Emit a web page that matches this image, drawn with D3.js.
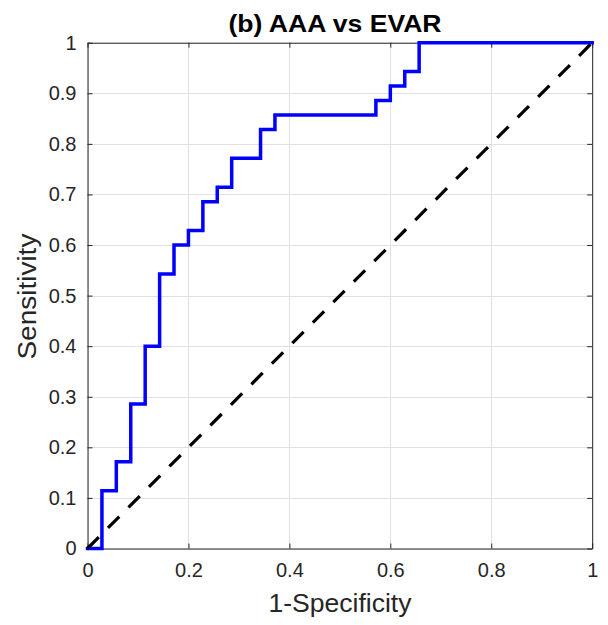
<!DOCTYPE html>
<html>
<head>
<meta charset="utf-8">
<script src="https://cdn.jsdelivr.net/npm/d3@7"></script>
<style>
  html, body { margin: 0; padding: 0; background: #fff; }
  svg { display: block; }
  text { font-family: "Liberation Sans", Arial, Helvetica, sans-serif; fill: #262626; }
</style>
</head>
<body>
<svg id="chart" width="608" height="625"></svg>
<script>
// ---- data ----
const titleText = "(b) AAA vs EVAR";
const xLabel = "1-Specificity";
const yLabel = "Sensitivity";
const xTicks = [0, 0.2, 0.4, 0.6, 0.8, 1];
const yTicks = [0, 0.1, 0.2, 0.3, 0.4, 0.5, 0.6, 0.7, 0.8, 0.9, 1];
// ROC step corners: value of sensitivity from each false positive rate onward
const fpr = [0, 0.0286, 0.0571, 0.0857, 0.1143, 0.1429, 0.1714, 0.2, 0.2286, 0.2571, 0.2857, 0.3429, 0.3714, 0.5714, 0.6, 0.6286, 0.6571, 1];
const tpr = [0, 0.1143, 0.1714, 0.2857, 0.4, 0.5429, 0.6, 0.6286, 0.6857, 0.7143, 0.7714, 0.8286, 0.8571, 0.8857, 0.9143, 0.9429, 1, 1];
const chanceX = [0, 1];
const chanceY = [0, 1];

// ---- layout ----
const L = 87.5, R = 592.2, T = 42.7, B = 548.5;
const svg = d3.select("#chart");
const x = d3.scaleLinear().domain([0, 1]).range([L, R]);
const y = d3.scaleLinear().domain([0, 1]).range([B, T]);

const fmt = d => d3.format("~g")(d);
const tickLen = 5;

// grid
const grid = svg.append("g").attr("stroke", "#e0e0e0").attr("stroke-width", 1);
grid.selectAll("line.gx").data(xTicks).join("line")
  .attr("x1", d => Math.round(x(d)) + 0.5).attr("x2", d => Math.round(x(d)) + 0.5)
  .attr("y1", T).attr("y2", B);
grid.selectAll("line.gy").data(yTicks).join("line")
  .attr("y1", d => Math.round(y(d)) + 0.5).attr("y2", d => Math.round(y(d)) + 0.5)
  .attr("x1", L).attr("x2", R);

// axes (MATLAB style: inward ticks, box)
const axColor = "#262626";
const xAxisB = d3.axisBottom(x).tickValues(xTicks).tickFormat(fmt).tickSizeInner(-tickLen).tickSizeOuter(0).tickPadding(14);
const xAxisT = d3.axisTop(x).tickValues(xTicks).tickFormat("").tickSizeInner(-tickLen).tickSizeOuter(0);
const yAxisL = d3.axisLeft(y).tickValues(yTicks).tickFormat(fmt).tickSizeInner(-tickLen).tickSizeOuter(0).tickPadding(11);
const yAxisR = d3.axisRight(y).tickValues(yTicks).tickFormat("").tickSizeInner(-tickLen).tickSizeOuter(0);

function styleAxis(g) {
  g.select(".domain").attr("stroke", axColor).attr("stroke-width", 1);
  g.selectAll(".tick line").attr("stroke", axColor).attr("stroke-width", 1);
  g.selectAll(".tick text").attr("fill", axColor).style("font-size", "20px")
    .style("font-family", "'Liberation Sans', Arial, sans-serif");
}
svg.append("g").attr("transform", `translate(0,${B})`).call(xAxisB).call(styleAxis);
svg.append("g").attr("transform", `translate(0,${T})`).call(xAxisT).call(styleAxis);
svg.append("g").attr("transform", `translate(${L},0)`).call(yAxisL).call(styleAxis);
svg.append("g").attr("transform", `translate(${R},0)`).call(yAxisR).call(styleAxis);

// ROC curve
const rocPts = fpr.map((d, i) => [d, tpr[i]]);
const line = d3.line().x(d => x(d[0])).y(d => y(d[1]));
svg.append("path")
  .datum(rocPts)
  .attr("d", line.curve(d3.curveStepAfter))
  .attr("fill", "none")
  .attr("stroke", "#0000ff")
  .attr("stroke-width", 3.5)
  .attr("stroke-linejoin", "miter")
  .attr("stroke-linecap", "square");

// chance diagonal
const chancePts = chanceX.map((d, i) => [d, chanceY[i]]);
svg.append("path")
  .datum(chancePts)
  .attr("d", d3.line().x(d => x(d[0])).y(d => y(d[1])))
  .attr("fill", "none")
  .attr("stroke", "#000")
  .attr("stroke-width", 3.2)
  .attr("stroke-dasharray", "16,13");

// title & labels
svg.append("text")
  .attr("x", 335).attr("y", 32)
  .attr("text-anchor", "middle")
  .style("font-size", "24px").style("font-weight", "bold")
  .style("fill", "#000")
  .attr("textLength", 213).attr("lengthAdjust", "spacingAndGlyphs")
  .text(titleText);

svg.append("text")
  .attr("x", 340).attr("y", 612)
  .attr("text-anchor", "middle")
  .style("font-size", "26px")
  .attr("textLength", 143).attr("lengthAdjust", "spacingAndGlyphs")
  .text(xLabel);

svg.append("text")
  .attr("transform", `translate(36,${(T + B) / 2 + 1}) rotate(-90)`)
  .attr("text-anchor", "middle")
  .style("font-size", "26px")
  .attr("textLength", 126).attr("lengthAdjust", "spacingAndGlyphs")
  .text(yLabel);
</script>
</body>
</html>
